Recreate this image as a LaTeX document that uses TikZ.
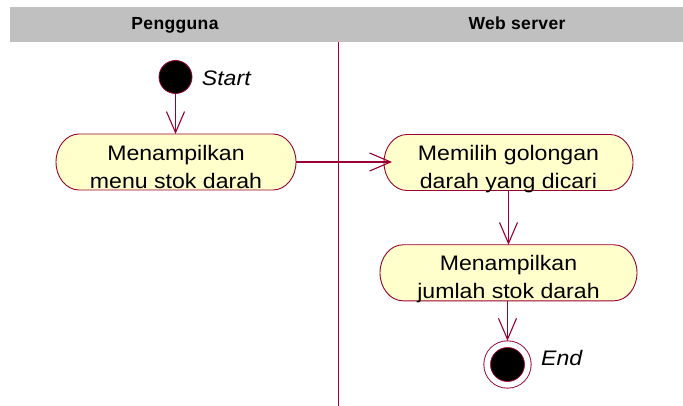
\documentclass[tikz,border=0pt]{standalone}
\usepackage{fontspec}
\setmainfont{Liberation Sans}
\newfontfamily\actfont[FakeStretch=1.1]{Liberation Sans}
\newfontfamily\headfont[LetterSpace=2]{Liberation Sans}
\usetikzlibrary{arrows.meta,backgrounds,calc}
\definecolor{umlline}{HTML}{990033}
\definecolor{actfill}{HTML}{FFFFCC}
\definecolor{lanegray}{HTML}{C0C0C0}

\begin{document}
\begin{tikzpicture}[x=1pt,y=1pt,
  flow/.style={draw=umlline, line width=1.1pt,
    -{Straight Barb[length=21pt,width=18pt,line width=1.1pt]}},
  actbox/.style={minimum width=#1, minimum height=56pt, inner sep=0pt, outer sep=0pt},
  actshape/.style={draw=umlline, fill=actfill, line width=0.9pt},
  acttext/.style={font=\actfont\fontsize{21}{28}\selectfont, align=center,
    anchor=base, inner sep=0pt},
  lanehead/.style={font=\headfont\fontsize{17.5}{20}\selectfont\bfseries, anchor=base, inner sep=0pt},
  statelabel/.style={font=\actfont\fontsize{21}{25}\selectfont\itshape,
    anchor=base west, inner sep=0pt},
  startdot/.style={circle, fill=black, draw=umlline, line width=0.8pt,
    minimum size=33pt, inner sep=0pt, outer sep=0pt},
  enddot/.style={circle, fill=black, draw=umlline, line width=0.9pt,
    double=white, double distance=5.7pt, minimum size=40.7pt,
    inner sep=0pt, outer sep=3.4pt},
  divider/.style={draw=umlline, line width=1.1pt}
]
\useasboundingbox (0,0) rectangle (683,-406);

% swimlane header band
\fill[lanegray] (10,-7.5) rectangle (683,-42.5);
\node[lanehead] (laneA) at (175,-29.3) {Pengguna};
\node[lanehead] (laneB) at (517,-29.3) {Web server};

% lane separator
\coordinate (sepTop) at (338.3,-42.5);
\coordinate (sepBot) at (338.3,-406);
\draw[divider] (sepTop) -- (sepBot);

% initial state
\node[startdot] (start) at (175.5,-77) {};
\node[statelabel] (startLbl) at (201.7,-86) {Start};

% activities
\node[actbox=240pt] (a1) at (176,-162) {};
\node[actbox=249pt] (a2) at (508.5,-162.5) {};
\node[actbox=257pt] (a3) at (508.5,-272.8) {};

\begin{scope}[on background layer]
  \foreach \n in {a1,a2,a3}
    \path[actshape] ($(\n.north west)+(23,0)$) -- ($(\n.north east)+(-23,0)$)
      arc[start angle=90, end angle=-90, x radius=23, y radius=28]
      -- ($(\n.south west)+(23,0)$)
      arc[start angle=270, end angle=90, x radius=23, y radius=28] -- cycle;
\end{scope}

% activity captions (anchored on the baseline of their last line)
\node[acttext] (a1t) at ($(a1.north)+(0,-54.5)$) {Menampilkan\\menu stok darah};
\node[acttext] (a2t) at ($(a2.north)+(0,-53.7)$) {Memilih golongan\\darah yang dicari};
\node[acttext] (a3t) at ($(a3.north)+(0,-54)$) {Menampilkan\\jumlah stok darah};

% final state
\node[enddot] (end) at (507.5,-364.5) {};
\node[statelabel] (endLbl) at (541,-365) {End};

% transitions
\draw[flow] (start.south) -- (start.south |- a1.north);
\draw[flow, shorten >=-8pt] (a1.east) -- (a1.east -| a2.west);
\draw[flow] (a2.south) -- (a3.north);
\draw[flow] (a3.south -| end.north) -- (end.north);
\end{tikzpicture}
\end{document}
